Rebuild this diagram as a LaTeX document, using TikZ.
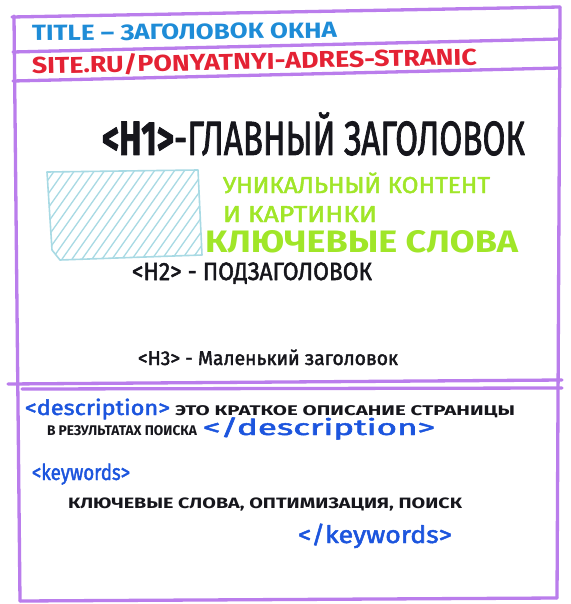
\documentclass[tikz,border=0pt]{standalone}
\usepackage{fontspec}
\setmainfont{Fira Sans}
\newfontfamily\penfont{Fira Sans}[FakeBold=2]
\usepackage{graphicx}

\definecolor{frameviolet}{RGB}{186,125,236}
\definecolor{titleblue}{RGB}{30,140,215}
\definecolor{urlred}{RGB}{228,34,52}
\definecolor{inkblack}{RGB}{22,22,28}
\definecolor{limegreen}{RGB}{160,230,40}
\definecolor{hatchcyan}{RGB}{168,218,228}
\definecolor{tagblue}{RGB}{28,85,222}

% stretch a text to a given width, keep its height
\newcommand{\stretchto}[2]{\resizebox{#1}{\height}{#2}}
\newcommand{\fsz}[1]{\fontsize{#1}{#1}\selectfont}

\begin{document}
\begin{tikzpicture}[
        x=1pt, y=-1pt,
        line cap=round,
        line join=round
    ]
    \tikzset{
        frameline/.style = {draw=frameviolet, line width=3.3pt},
        hatchbox/.style = {draw=hatchcyan, line width=1.6pt},
        hatchline/.style = {draw=hatchcyan, line width=1.3pt},
        ink/.style = {anchor=base west, inner sep=0pt, outer sep=0pt},
        titleink/.style = {ink, text=titleblue, font=\fsz{22}\bfseries},
        urlink/.style = {ink, text=urlred, font=\fsz{23}\bfseries},
        headink/.style = {ink, text=inkblack, font=\penfont},
        greenink/.style = {ink, text=limegreen, font=\penfont},
        tagink/.style = {ink, text=tagblue, font=\fsz{21}\penfont},
        smallink/.style = {ink, text=inkblack, font=\fsz{14}\bfseries},
    }
    \fill[white] (0,0) rectangle (570,604);
    \useasboundingbox (0,0) rectangle (570,604);
    %
    \coordinate (tl) at (14,16);
    \coordinate (tr) at (560,7);
    \coordinate (bl) at (20,601);
    \coordinate (br) at (557,598);
    %
    \draw[frameline] (12,17) -- (tr);
    \draw[frameline] (tl) -- (bl);
    \draw[frameline] (tr) -- (br);
    \draw[frameline] (bl) -- (br);
    \draw[frameline] (13,52) -- (560,39);
    \draw[frameline] (13,81) -- (560,68);
    \draw[frameline] (8,384) -- (562,380);
    \draw[frameline] (22,389) -- (562,388);
    %
    \begin{scope}
        \clip (47,172) -- (198,170) -- (202,255) -- (60,260) -- (52,250) -- cycle;
        \foreach \i in {-60,-50,...,200}
            \draw[hatchline] (\i,262) -- ++(65,-92);
    \end{scope}
    \draw[hatchbox] (47,172) -- (198,170) -- (202,255) -- (60,260) -- (52,250) -- cycle;
    %
    \node[titleink, rotate=0.6] (title) at (32,41) {\stretchto{305pt}{TITLE – ЗАГОЛОВОК ОКНА}};
    \node[urlink, rotate=1.2] (url) at (32,74) {\stretchto{445pt}{SITE.RU/PONYATNYI-ADRES-STRANIC}};
    %
    \node[headink, font=\fsz{48}\penfont] (hone) at (102,155) {\stretchto{423pt}{\textbf{<H1>}-ГЛАВНЫЙ ЗАГОЛОВОК}};
    \node[greenink, font=\fsz{23}\penfont] (uniq) at (223,193) {\stretchto{267pt}{УНИКАЛЬНЫЙ КОНТЕНТ}};
    \node[greenink, font=\fsz{23}\penfont] (pics) at (223,222) {\stretchto{154pt}{И КАРТИНКИ}};
    \node[greenink, font=\fsz{31}\bfseries] (keys) at (205,252) {\stretchto{313pt}{КЛЮЧЕВЫЕ СЛОВА}};
    \node[headink, font=\fsz{25}\penfont] (htwo) at (132,280) {\stretchto{240pt}{<H2> - ПОДЗАГОЛОВОК}};
    \node[headink, font=\fsz{20}\penfont] (hthree) at (138,365) {\stretchto{260pt}{<H3> - Маленький заголовок}};
    %
    \node[tagink] (descopen) at (25,415) {\stretchto{145pt}{<description>}};
    \node[smallink] (desctext) at (175,415) {\stretchto{340pt}{ЭТО КРАТКОЕ ОПИСАНИЕ СТРАНИЦЫ}};
    \node[smallink] (descmore) at (47,435) {\stretchto{150pt}{В РЕЗУЛЬТАТАХ ПОИСКА}};
    \node[tagink, font=\fsz{22}\penfont] (descclose) at (203,435) {\stretchto{232pt}{</description>}};
    \node[tagink, font=\fsz{22}\penfont] (kwopen) at (32,480) {\stretchto{98pt}{<keywords>}};
    \node[smallink, font=\fsz{15}\bfseries] (kwtext) at (68,508) {\stretchto{394pt}{КЛЮЧЕВЫЕ СЛОВА, ОПТИМИЗАЦИЯ, ПОИСК}};
    \node[tagink, font=\fsz{24}\penfont] (kwclose) at (298,543) {\stretchto{154pt}{</keywords>}};
\end{tikzpicture}
\end{document}
